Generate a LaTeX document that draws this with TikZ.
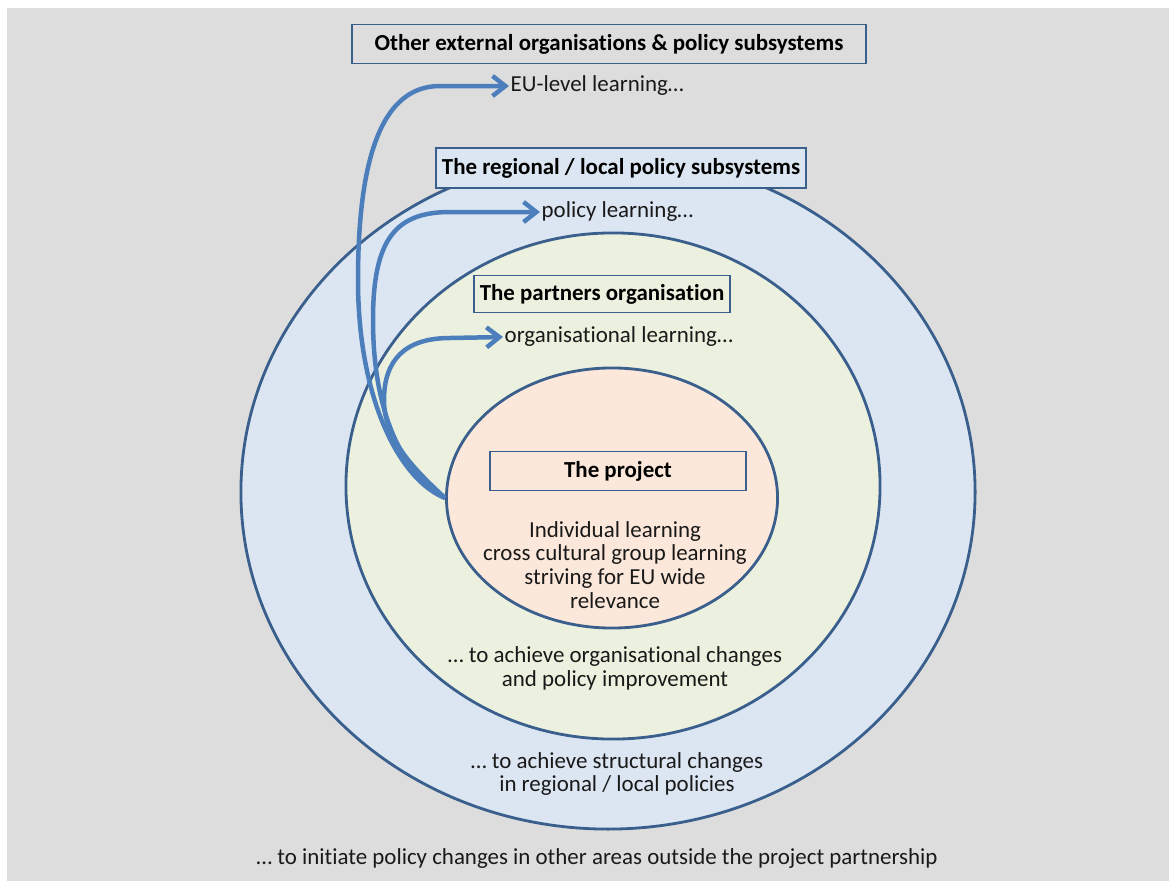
\documentclass[tikz,border=0pt]{standalone}
\usepackage{fontspec}
\setmainfont{Carlito}[Ligatures=NoCommon]
\usetikzlibrary{shapes.geometric,arrows.meta}

\definecolor{hgrau}{HTML}{DDDDDD}
\definecolor{rand}{HTML}{3A5F8C}
\definecolor{pfeil}{HTML}{4C7EBC}
\definecolor{hblau}{HTML}{DCE6F2}
\definecolor{hgruen}{HTML}{EBF1DE}
\definecolor{lachs}{HTML}{FCE8DA}

\tikzset{
  kreis/.style={ellipse, draw=rand, line width=2pt, inner sep=0pt},
  kasten/.style={rectangle, draw=rand, line width=1.4pt, inner sep=0pt, font=\fontsize{16.3}{17.5}\selectfont\bfseries},
  lernen/.style={-{Straight Barb[length=3.2mm,width=5mm]}, draw=pfeil, line width=3.2pt},
  txt/.style={align=center, inner sep=1pt, text=black!90}
}

\begin{document}
\begin{tikzpicture}[x=0.025cm, y=-0.025cm, font=\fontsize{16.3}{17}\selectfont]

                  % Rahmen und Hintergrund
                  \useasboundingbox (0,0) rectangle (1169,881);
                  \fill[white] (0,0) rectangle (1169,881);
                  \fill[hgrau] (7,8) rectangle (1169,881);

                  % Ellipsen (aussen nach innen)
                  \node[kreis, fill=hblau, minimum width=18.35cm, minimum height=16.85cm] (regional) at (608,492) {};
                  \node[kreis, fill=hgruen, minimum width=13.35cm, minimum height=12.65cm] (partner) at (613,486) {};
                  \node[kreis, fill=lachs, minimum width=8.275cm, minimum height=6.5cm] (proj) at (612,498) {};

                  % Kaesten
                  \node[kasten, fill=hgrau, minimum width=12.825cm, minimum height=0.975cm] (extern) at (609,44) {Other external organisations \& policy subsystems};
                  \node[kasten, fill=hblau, minimum width=9.25cm, minimum height=1cm] (regbox) at (621,168) {The regional / local policy subsystems};
                  \node[kasten, fill=hgruen, minimum width=6.4cm, minimum height=0.925cm] (partbox) at (602,294) {The partners organisation};
                  \node[kasten, fill=lachs, minimum width=6.375cm, minimum height=0.975cm] (projbox) at (618,471) {The project};

                  % Lernebenen
                  \node[txt, anchor=west] (eu) at (509,86) {EU-level learning…};
                  \node[txt, anchor=west] (pol) at (540,212) {policy learning…};
                  \node[txt, anchor=west] (org) at (503,337) {organisational learning…};

                  % Texte
                  \node[txt] (projtxt) at (615,565) {Individual learning\\cross cultural group learning\\striving for EU wide\\relevance};
                  \node[txt] (orgtxt) at (615,668) {… to achieve organisational changes\\and policy improvement};
                  \node[txt] (strtxt) at (617,774) {… to achieve structural changes\\in regional / local policies};
                  \node[txt] (aussentxt) at (597,858) {… to initiate policy changes in other areas outside the project partnership};

                  % Pfeile
                  \draw[lernen] (proj.west) .. controls (400,480) and (358,400) .. (358,280) .. controls (358,150) and (385,86) .. (440,86) -- (eu.west);
                  \draw[lernen] (proj.west) .. controls (410,478) and (373,425) .. (373,320) .. controls (373,240) and (395,212) .. (450,212) -- (pol.west);
                  \draw[lernen] (proj.west) .. controls (415,470) and (384,440) .. (384,400) .. controls (384,360) and (405,338) .. (450,338) -- (org.west);

\end{tikzpicture}
\end{document}
